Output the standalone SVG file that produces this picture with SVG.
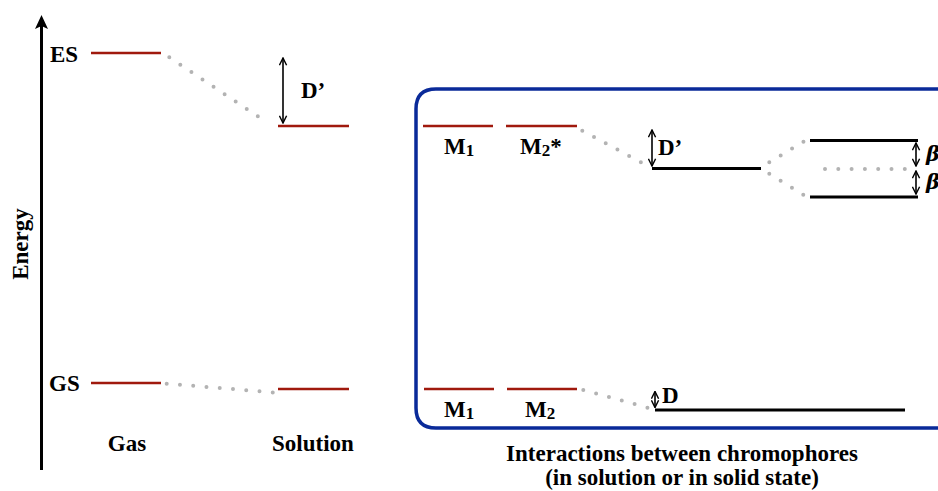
<svg xmlns="http://www.w3.org/2000/svg" width="938" height="491" viewBox="0 0 938 491">
<style>
text{font-family:"Liberation Serif","Times New Roman",serif;font-weight:bold;font-size:23px;fill:#000}
.sub{font-size:17px}
.red{stroke:#a0190d;stroke-width:2.7;fill:none}
.blk{stroke:#000;stroke-width:3;fill:none}
.dot{stroke:#b3b3b3;stroke-width:4;stroke-linecap:round;stroke-dasharray:0 13.3;fill:none}
.arr{stroke:#000;stroke-width:1.6;fill:none;marker-start:url(#ah);marker-end:url(#ah)}
.beta{font-family:"DejaVu Serif","Liberation Serif",serif;font-style:italic;font-size:21px}
</style>
<defs>
<marker id="ah" viewBox="0 0 10 10" refX="9" refY="5" markerWidth="9" markerHeight="9" markerUnits="userSpaceOnUse" orient="auto-start-reverse">
<path d="M1,1 L9,5 L1,9" fill="none" stroke="#000" stroke-width="1.6"/>
</marker>
</defs>
<g id="axis">
<line x1="41.5" y1="26" x2="41.5" y2="470" stroke="#000" stroke-width="3"/>
<polygon points="41.5,15 35,29 41.5,26 48,29" fill="#000"/>
<text transform="translate(28,244) rotate(-90)" text-anchor="middle">Energy</text>
</g>
<g id="gas">
<line class="red" x1="91" y1="53" x2="161" y2="53"/>
<line class="red" x1="91" y1="383" x2="161" y2="383"/>
<text x="50" y="62">ES</text>
<text x="49" y="391">GS</text>
<text x="127" y="451" text-anchor="middle">Gas</text>
</g>
<g id="solution">
<line class="red" x1="278" y1="126" x2="349" y2="126"/>
<line class="red" x1="278" y1="389" x2="349" y2="389"/>
<text x="313" y="451" text-anchor="middle">Solution</text>
<text x="301" y="98">D’</text>
</g>
<g id="box">
<path d="M945,89 H436 Q416,89 416,109 V408 Q416,428 436,428 H945" fill="none" stroke="#0a2a99" stroke-width="3.5"/>
</g>
<g id="monomers">
<line class="red" x1="423" y1="126" x2="493" y2="126"/>
<line class="red" x1="506" y1="126" x2="577" y2="126"/>
<line class="red" x1="424" y1="389" x2="494" y2="389"/>
<line class="red" x1="507" y1="389" x2="577" y2="389"/>
<text x="444" y="154">M<tspan class="sub" dy="2">1</tspan></text>
<text x="520" y="154">M<tspan class="sub" dy="2">2</tspan><tspan dy="-2">*</tspan></text>
<text x="444" y="417">M<tspan class="sub" dy="2">1</tspan></text>
<text x="525" y="417">M<tspan class="sub" dy="2">2</tspan></text>
</g>
<g id="dimer">
<line class="blk" x1="652" y1="168.5" x2="761" y2="168.5"/>
<line class="blk" x1="810" y1="140.5" x2="918" y2="140.5"/>
<line class="blk" x1="810" y1="197" x2="918" y2="197"/>
<line class="blk" x1="655" y1="410" x2="905" y2="410"/>
<text x="658" y="155">D’</text>
<text x="662" y="403">D</text>
<text class="beta" x="926" y="161">β</text>
<text class="beta" x="926" y="189">β</text>
</g>
<g id="caption">
<text x="682" y="461" text-anchor="middle">Interactions between chromophores</text>
<text x="682" y="485" text-anchor="middle">(in solution or in solid state)</text>
</g>
<g id="connectors">
<line class="dot" x1="169.3" y1="57.3" x2="268.5" y2="123.5"/>
<line class="dot" x1="166.7" y1="383.7" x2="273" y2="392.4"/>
<line class="dot" x1="582.3" y1="130.7" x2="652.5" y2="168.5"/>
<line class="dot" x1="583.3" y1="390" x2="648" y2="407.8"/>
<line class="dot" x1="769.3" y1="162.3" x2="803.5" y2="141.6"/>
<line class="dot" x1="769.3" y1="173.7" x2="803.5" y2="194.8"/>
<line class="dot" x1="825" y1="169" x2="905.2" y2="169"/>
<line class="arr" x1="283" y1="58" x2="283" y2="123"/>
<line class="arr" x1="652" y1="130" x2="652" y2="166"/>
<line class="arr" x1="655" y1="391.5" x2="655" y2="407.5"/>
<line class="arr" x1="916" y1="143" x2="916" y2="166"/>
<line class="arr" x1="916" y1="171" x2="916" y2="194"/>
</g>
</svg>
